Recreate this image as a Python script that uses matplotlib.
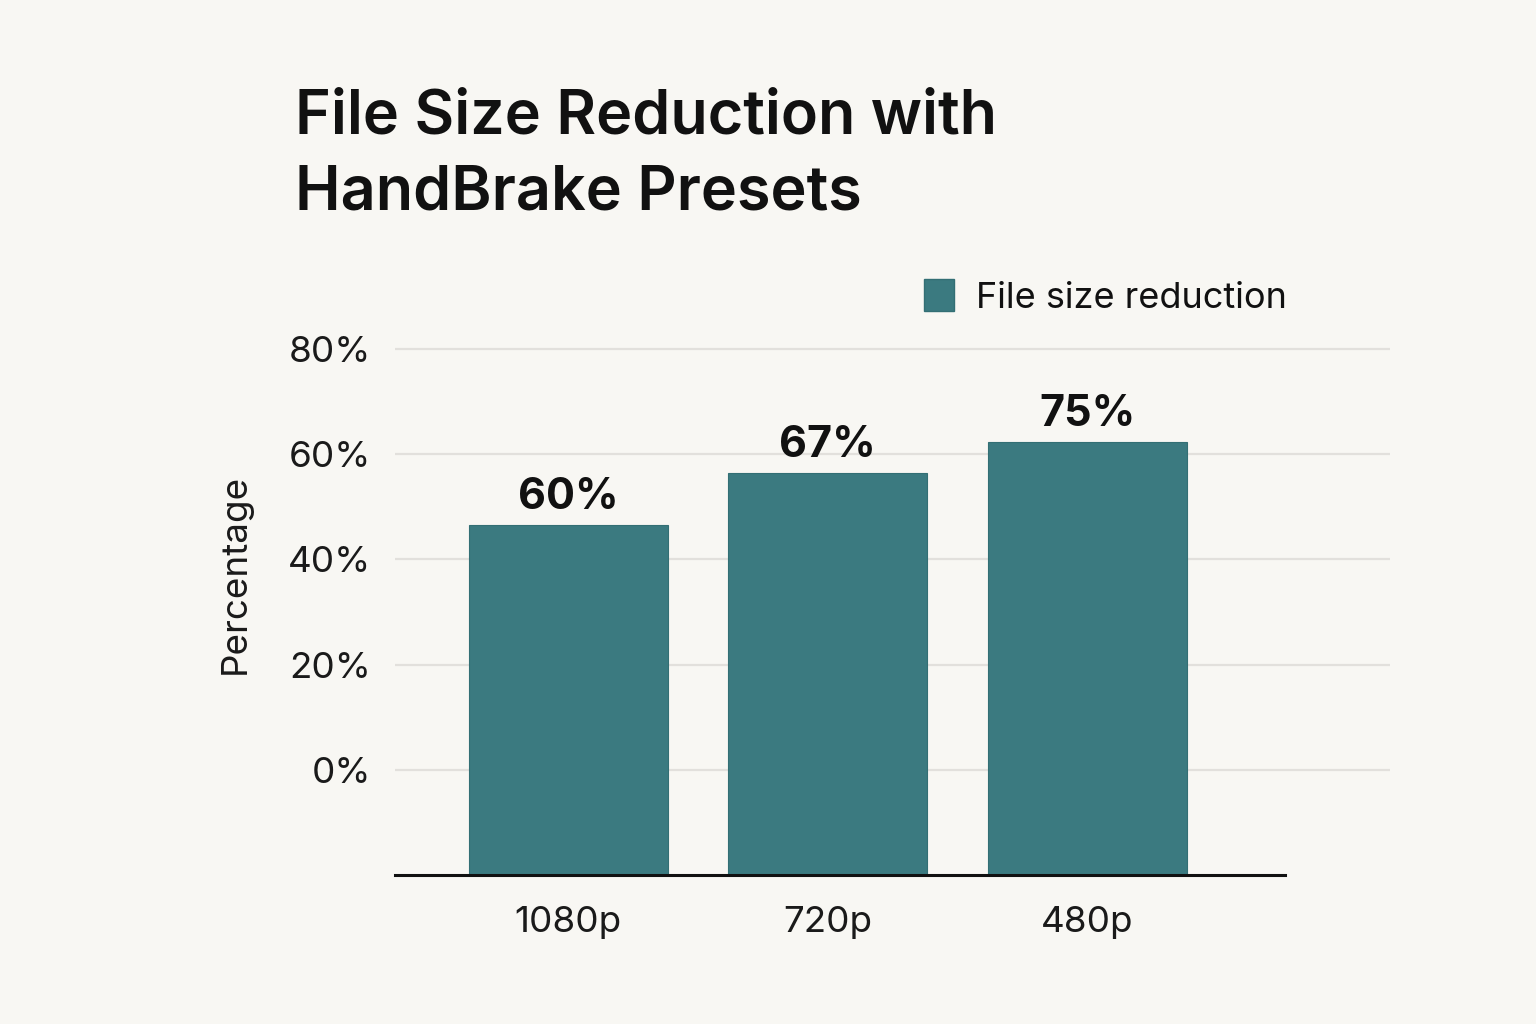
import matplotlib
matplotlib.use("Agg")
import matplotlib.pyplot as plt
from matplotlib.patches import Patch

# ---- data ----
categories = ["1080p", "720p", "480p"]
value_labels = ["60%", "67%", "75%"]          # annotated values
bar_tops = [46.5, 56.4, 62.3]                 # bar tops as drawn on the y scale
bar_base = -20                                # bars start at the drawn baseline
y_ticks = [0, 20, 40, 60, 80]
y_tick_labels = ["0%", "20%", "40%", "60%", "80%"]
legend_label = "File size reduction"
title = "File Size Reduction with\nHandBrake Presets"

BG = "#F8F7F3"
BAR = "#3B7A80"
GRID = "#E2E0DC"

plt.rcParams["font.family"] = ["Inter", "DejaVu Sans"]

fig = plt.figure(figsize=(15.36, 10.24), dpi=100, facecolor=BG)
W, H = 1536, 1024
ax = fig.add_axes([395 / W, 1 - 875 / H, (1390 - 395) / W, (875 - 330) / H])
ax.set_facecolor(BG)

x = list(range(len(categories)))
heights = [t - bar_base for t in bar_tops]
ax.bar(x, heights, bottom=bar_base, width=0.766, color=BAR, zorder=3,
       edgecolor="#336f74", linewidth=0.8)

ax.set_xlim(-0.667, 3.165)
ax.set_ylim(-20, 83.6)

for yt in y_ticks:
    ax.axhline(yt, color=GRID, linewidth=1.6, zorder=1)
ax.axhline(bar_base, xmin=0, xmax=(1285 - 395) / (1390 - 395), color="#111111",
           linewidth=2.2, zorder=4, clip_on=False)

ax.set_yticks(y_ticks)
ax.set_yticklabels(y_tick_labels, fontsize=26.5, color="#1a1a1a")
ax.set_xticks(x)
ax.set_xticklabels(categories, fontsize=26.5, color="#1a1a1a")
ax.tick_params(axis="y", length=0, pad=17)
ax.tick_params(axis="x", length=0, pad=22)
for s in ax.spines.values():
    s.set_visible(False)

ax.set_ylabel("Percentage", fontsize=26.5, color="#1a1a1a")
ax.yaxis.set_label_coords((252 - 395) / 995, (875 - 574) / 545)

for xi, top, lab in zip(x, bar_tops, value_labels):
    ax.annotate(lab, (xi, top), xytext=(0, 5), textcoords="offset points",
                ha="center", va="bottom", fontsize=31, fontweight="bold",
                color="#111111", zorder=5)

fig.text(295 / W, 1 - 88 / H, title, fontsize=44, fontweight="semibold",
         color="#111111", ha="left", va="top", linespacing=1.42)

leg = fig.legend(handles=[Patch(facecolor=BAR, edgecolor="#336f74", label=legend_label)],
                 loc="upper right", bbox_to_anchor=(1305 / W, 1 - 261 / H),
                 frameon=False, fontsize=26, handlelength=0.85, handleheight=1.0,
                 handletextpad=0.6, borderpad=0.0)
for t in leg.get_texts():
    t.set_color("#111111")

fig.savefig("out.png", dpi=100, facecolor=BG)
